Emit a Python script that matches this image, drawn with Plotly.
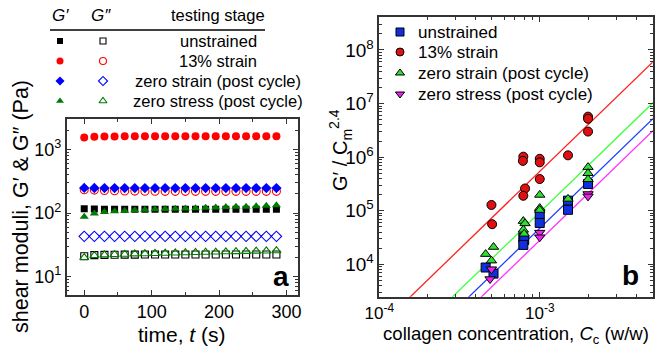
import plotly.graph_objects as go

W, H = 656, 346
FONT = "Arial, Liberation Sans, sans-serif"

# ---------------- Panel a data ----------------
time_s = [0, 15, 30, 45, 60, 75, 90, 105, 120, 135, 150, 165, 180, 195, 210, 225, 240, 255, 270, 285]
a_stage = ["unstrained", "13% strain", "zero strain (post cycle)", "zero stress (post cycle)"]
Gp_unstrained = [117, 116, 115, 115, 115, 115, 115, 115, 115, 115, 115, 115, 115, 115, 115, 115, 115, 115, 115, 115]
Gpp_unstrained = [21, 21.8, 22, 22.1, 22.2, 22.2, 22.3, 22.3, 22.3, 22.3, 22.3, 22.3, 22.3, 22.3, 22.3, 22.3, 22.3, 22.3, 22.3, 22.3]
Gp_strain13 = [1530, 1580, 1590, 1595, 1600, 1600, 1600, 1600, 1600, 1600, 1600, 1600, 1600, 1600, 1600, 1600, 1600, 1600, 1600, 1600]
Gpp_strain13 = [232, 229, 226, 224, 222, 221, 220, 220, 219, 219, 219, 219, 219, 219, 219, 219, 219, 219, 219, 219]
Gp_zerostrain = [248, 247, 246, 246, 246, 246, 246, 246, 246, 246, 246, 246, 246, 246, 246, 246, 246, 246, 246, 246]
Gpp_zerostrain = [43, 43, 43, 43, 43, 43, 43, 43, 43, 43, 43, 43, 43, 43, 43, 43, 43, 43, 43, 43]
Gp_zerostress = [87, 98, 104, 107, 109, 111, 113, 115, 116, 117, 118, 119, 121, 122, 124, 125, 126, 128, 130, 132]
Gpp_zerostress = [20, 21.5, 22, 22.3, 22.5, 22.8, 23, 23.2, 23.4, 23.6, 23.8, 24, 24.2, 24.4, 24.6, 24.8, 25, 25.2, 25.4, 25.6]

# ---------------- Panel b data ----------------
b_names = ["unstrained", "13% strain", "zero strain (post cycle)", "zero stress (post cycle)"]
C_unstrained = [4.6e-4, 5.15e-4, 7.9e-4, 8.0e-4, 7.9e-4, 1e-3, 1e-3, 1.5e-3, 1.5e-3, 2e-3]
N_unstrained = [8.7e3, 6.7e3, 3.16e4, 2.83e4, 2.3e4, 8.6e4, 5.9e4, 1.54e5, 1.04e5, 3.16e5]
C_strain13 = [5e-4, 5.05e-4, 7.9e-4, 7.85e-4, 8.1e-4, 7.9e-4, 1e-3, 1e-3, 1e-3, 1.5e-3, 2e-3, 2e-3, 2e-3]
N_strain13 = [1.28e5, 5.6e4, 1.02e6, 8.5e5, 2.6e5, 1.9e5, 9.3e5, 8.0e5, 3.9e5, 1.08e6, 5.7e6, 5.2e6, 3.0e6]
C_zerostrain = [4.6e-4, 5.15e-4, 5.0e-4, 7.9e-4, 8.1e-4, 7.9e-4, 8.0e-4, 1e-3, 1e-3, 1e-3, 1.5e-3, 2e-3, 2e-3, 2e-3]
N_zerostrain = [1.55e4, 2.1e4, 1.17e4, 6.4e4, 5.8e4, 4.4e4, 3.7e4, 1.97e5, 1.12e5, 1.03e5, 1.66e5, 6.5e5, 5.0e5, 3.85e5]
C_zerostress = [5.0e-4, 4.9e-4, 1e-3, 1e-3, 2e-3, 2e-3]
N_zerostress = [8.1e3, 5.3e3, 3.9e4, 3.2e4, 2.05e5, 1.85e5]
# power-law fits: value at C = 1e-3 and common exponent
fit_amp = [4.7e4, 5.4e5, 9.3e4, 2.8e4]
fit_exp = 2.9
fit_C = [8e-5, 6e-3]

# tick labels
a_yticks = [10, 100, 1000]
a_yticktext = ["10<sup>1</sup>", "10<sup>2</sup>", "10<sup>3</sup>"]
a_xticks = [0, 100, 200, 300]
b_xticks = [1e-4, 1e-3]
b_xticktext = ["10<sup>-4</sup>", "10<sup>-3</sup>"]
b_yticks = [1e4, 1e5, 1e6, 1e7, 1e8]
b_yticktext = ["10<sup>4</sup>", "10<sup>5</sup>", "10<sup>6</sup>", "10<sup>7</sup>", "10<sup>8</sup>"]


def px_x(p):
    return p / W


def px_y(p):
    return 1 - p / H


def log_minors(lo, hi):
    out = []
    for e in range(lo, hi):
        for m in range(2, 10):
            out.append(m * 10 ** e)
    return out


fig = go.Figure()

# ---------- panel a ----------
a_col = ["#000000", "#ff0000", "#0000ff", "#007a00"]
a_filled = ["square", "circle", "diamond", "triangle-up"]
a_open = ["square-open", "circle-open", "diamond-open", "triangle-up-open"]
a_Gp = [Gp_unstrained, Gp_strain13, Gp_zerostrain, Gp_zerostress]
a_Gpp = [Gpp_unstrained, Gpp_strain13, Gpp_zerostrain, Gpp_zerostress]
a_size_f = [7, 8, 8, 8]
a_size_o = [7, 8, 8, 8]
for i in range(4):
    fig.add_trace(go.Scatter(x=time_s, y=a_Gpp[i], mode="markers", xaxis="x", yaxis="y",
                             marker=dict(symbol=a_open[i], size=a_size_o[i], color=a_col[i],
                                         line=dict(width=1.1, color=a_col[i])),
                             showlegend=False))
for i in range(4):
    fig.add_trace(go.Scatter(x=time_s, y=a_Gp[i], mode="markers", xaxis="x", yaxis="y",
                             marker=dict(symbol=a_filled[i], size=a_size_f[i], color=a_col[i],
                                         line=dict(width=0)),
                             showlegend=False))

# ---------- panel b ----------
b_col = ["#1030e0", "#e01010", "#30e030", "#ee22ee"]
b_line = ["#2040ff", "#ff2020", "#40ff40", "#ff30ff"]
b_sym = ["square", "circle", "triangle-up", "triangle-down"]
b_C = [C_unstrained, C_strain13, C_zerostrain, C_zerostress]
b_N = [N_unstrained, N_strain13, N_zerostrain, N_zerostress]
for i in range(4):
    fy = [fit_amp[i] * (c / 1e-3) ** fit_exp for c in fit_C]
    fig.add_trace(go.Scatter(x=fit_C, y=fy, mode="lines", xaxis="x2", yaxis="y2",
                             line=dict(color=b_line[i], width=1.3), showlegend=False,
                             hoverinfo="skip"))
for i in range(4):
    fig.add_trace(go.Scatter(x=b_C[i], y=b_N[i], mode="markers", xaxis="x2", yaxis="y2",
                             marker=dict(symbol=b_sym[i], size=9, color=b_col[i],
                                         line=dict(width=1, color="#000000")),
                             showlegend=False))

# ---------- overlay (pixel coordinates) for legends & titles ----------
ov_x = [60, 103]
ov_rows = [41, 61, 81, 101]
for i in range(4):
    fig.add_trace(go.Scatter(x=[ov_x[0]], y=[ov_rows[i]], mode="markers", xaxis="x3", yaxis="y3",
                             marker=dict(symbol=a_filled[i], size=a_size_f[i] - 1, color=a_col[i]),
                             showlegend=False, hoverinfo="skip"))
    fig.add_trace(go.Scatter(x=[ov_x[1]], y=[ov_rows[i]], mode="markers", xaxis="x3", yaxis="y3",
                             marker=dict(symbol=a_open[i], size=a_size_o[i] - 1, color=a_col[i],
                                         line=dict(width=1.1, color=a_col[i])),
                             showlegend=False, hoverinfo="skip"))
b_rows = [32, 52, 73, 94]
for i in range(4):
    fig.add_trace(go.Scatter(x=[400], y=[b_rows[i]], mode="markers", xaxis="x3", yaxis="y3",
                             marker=dict(symbol=b_sym[i], size=8, color=b_col[i],
                                         line=dict(width=1, color="#000000")),
                             showlegend=False, hoverinfo="skip"))

ann = []


def txt(x, y, s, size, xanchor="center", angle=0):
    ann.append(dict(x=x, y=y, xref="x3", yref="y3", text=s, showarrow=False,
                    xanchor=xanchor, yanchor="middle", textangle=angle,
                    font=dict(family=FONT, size=size, color="#000000")))


# table headers
txt(60, 15, "<i>G′</i>", 17)
txt(101, 15, "<i>G″</i>", 17)
txt(218, 15, "testing stage", 16.5)
for i in range(4):
    txt(218, ov_rows[i], a_stage[i], 16.5)
for i in range(4):
    txt(416, b_rows[i], b_names[i], 17, xanchor="left")

# axis titles
txt(182, 334, "time, <i>t</i> (s)", 21)
txt(21, 207, "shear moduli, G′ & G″ (Pa)", 21.5, angle=-90)
txt(516, 335, "collagen concentration, <i>C</i><sub>c</sub> (w/w)", 18.6)
txt(340, 150, "G′ / C<sub>m</sub><sup>2.4</sup>", 20, angle=-90)
# panel letters
ann.append(dict(x=281, y=276, xref="x3", yref="y3", text="<b>a</b>", showarrow=False,
                font=dict(family=FONT, size=28, color="#000000")))
ann.append(dict(x=630, y=275, xref="x3", yref="y3", text="<b>b</b>", showarrow=False,
                font=dict(family=FONT, size=28, color="#000000")))

axis_common = dict(showgrid=False, zeroline=False, showline=True, linecolor="#333333",
                   linewidth=1.5, mirror="allticks", ticks="inside", ticklen=5,
                   tickcolor="#333333", tickwidth=1, automargin=False)

fig.update_layout(
    width=W, height=H,
    margin=dict(l=0, r=0, t=0, b=0, pad=0, autoexpand=False),
    paper_bgcolor="white", plot_bgcolor="rgba(0,0,0,0)",
    font=dict(family=FONT, color="#000000"),
    xaxis=dict(domain=[px_x(66.7), px_x(298)], range=[-26, 317], tickvals=a_xticks,
               tickfont=dict(size=18), anchor="y",
               minor=dict(tickvals=[50, 150, 250], ticks="inside", ticklen=3, tickcolor="#333333"),
               **axis_common),
    yaxis=dict(domain=[px_y(295), px_y(119)], type="log", range=[0.713, 3.476],
               tickvals=a_yticks, ticktext=a_yticktext, tickfont=dict(size=18), anchor="x",
               minor=dict(tickvals=log_minors(0, 4), ticks="inside", ticklen=3, tickcolor="#333333"),
               **axis_common),
    xaxis2=dict(domain=[px_x(379.3), px_x(652.7)], type="log", range=[-4.0, -2.296],
                tickvals=b_xticks, ticktext=b_xticktext, tickfont=dict(size=17), anchor="y2",
                minor=dict(tickvals=log_minors(-5, -2), ticks="inside", ticklen=3, tickcolor="#333333"),
                **axis_common),
    yaxis2=dict(domain=[px_y(296.7), px_y(17.3)], type="log", range=[3.395, 8.61],
                tickvals=b_yticks, ticktext=b_yticktext, tickfont=dict(size=19), anchor="x2",
                minor=dict(tickvals=log_minors(3, 9), ticks="inside", ticklen=3, tickcolor="#333333"),
                **axis_common),
    xaxis3=dict(domain=[0, 1], range=[0, W], visible=False, anchor="y3", fixedrange=True,
                automargin=False),
    yaxis3=dict(domain=[0, 1], range=[H, 0], visible=False, anchor="x3", fixedrange=True,
                automargin=False),
    annotations=ann,
    shapes=[dict(type="line", xref="x3", yref="y3", x0=50, x1=265, y0=30, y1=30,
                 line=dict(color="#000000", width=1.3))],
)

fig.write_html("out.html")
